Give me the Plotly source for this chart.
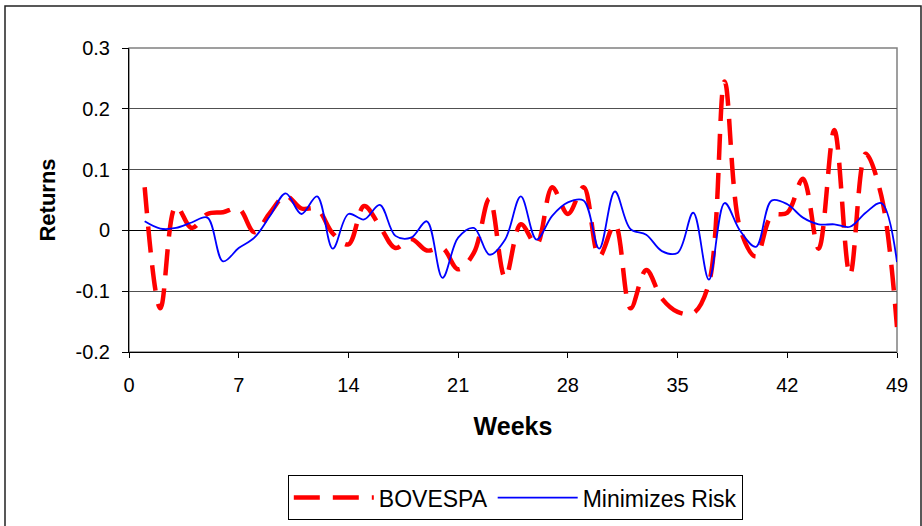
import plotly.graph_objects as go

weeks = list(range(1, 50))

bovespa = [0.071, -0.128, 0.040, 0.004, 0.027, 0.030, 0.036, -0.003, 0.029, 0.057,
           0.036, 0.035, -0.005, -0.023, 0.040, 0.007, -0.029, -0.014, -0.033, -0.029,
           -0.064, -0.037, 0.052, -0.078, 0.010, -0.023, 0.071, 0.027, 0.071, -0.043,
           0.010, -0.128, -0.065, -0.112, -0.134, -0.136, -0.087, 0.245, 0.002, -0.043,
           0.024, 0.029, 0.085, -0.030, 0.165, -0.073, 0.126, 0.057, -0.159]

min_risk = [0.015, 0.003, 0.004, 0.013, 0.021, -0.051, -0.029, -0.012, 0.024, 0.061,
            0.027, 0.056, -0.030, 0.027, 0.018, 0.042, -0.009, -0.012, 0.015, -0.078,
            -0.012, 0.004, -0.040, -0.015, 0.056, -0.015, 0.024, 0.046, 0.049, -0.030,
            0.064, 0.002, -0.007, -0.034, -0.037, 0.029, -0.081, 0.045, -0.001, -0.027,
            0.049, 0.043, 0.021, 0.010, 0.010, 0.006, 0.029, 0.045, -0.052]

x_ticks = [0, 7, 14, 21, 28, 35, 42, 49]
y_ticks = [-0.2, -0.1, 0, 0.1, 0.2, 0.3]
y_tick_text = ["-0.2", "-0.1", "0", "0.1", "0.2", "0.3"]

FONT = "Arial, 'Liberation Sans', sans-serif"

fig = go.Figure()
fig.add_trace(go.Scatter(
    x=weeks, y=bovespa, name="BOVESPA", mode="lines",
    line=dict(color="#FF0000", width=4.5, dash="26px,13px", shape="spline", smoothing=1.0),
))
fig.add_trace(go.Scatter(
    x=weeks, y=min_risk, name="Minimizes Risk", mode="lines",
    line=dict(color="#0000FF", width=1.8, shape="spline", smoothing=1.0),
))

# plot-area frame (gray) and outer chart frame
fig.add_shape(type="rect", xref="paper", yref="paper", x0=0, x1=1, y0=0, y1=1,
              line=dict(color="#808080", width=1.5), layer="below")
fig.add_shape(type="rect", xref="paper", yref="paper",
              x0=(5 - 129) / 768, x1=(921 - 129) / 768,
              y0=(352 - 540) / 304, y1=(352 - 6) / 304,
              line=dict(color="#222222", width=1.5))

fig.update_layout(
    width=922, height=526,
    margin=dict(l=129, r=25, t=48, b=174, autoexpand=False),
    paper_bgcolor="white", plot_bgcolor="white",
    font=dict(family=FONT, color="black", size=20),
    showlegend=True,
    legend=dict(
        orientation="h", x=0.503, y=-0.405, xanchor="center", yanchor="top",
        bordercolor="black", borderwidth=1, font=dict(size=23, family=FONT),
        itemwidth=80, tracegroupgap=0,
    ),
    xaxis=dict(
        range=[0, 49], tickmode="array", tickvals=x_ticks, automargin=False,
        showgrid=False, zeroline=False,
        showline=True, linecolor="black", linewidth=1,
        ticks="outside", ticklen=5, tickcolor="black", tickwidth=1,
        ticklabelstandoff=10,
        tickfont=dict(size=20, family=FONT),
        title=dict(text="<b>Weeks</b>", font=dict(size=25, family=FONT), standoff=22),
    ),
    yaxis=dict(
        range=[-0.2, 0.3], tickmode="array", tickvals=y_ticks, ticktext=y_tick_text,
        automargin=False,
        showgrid=True, gridcolor="#505050", gridwidth=1,
        zeroline=True, zerolinecolor="black", zerolinewidth=1,
        showline=True, linecolor="black", linewidth=1,
        ticks="outside", ticklen=6, tickcolor="black", tickwidth=1,
        ticklabelstandoff=8,
        tickfont=dict(size=20, family=FONT),
        title=dict(text="<b>Returns</b>", font=dict(size=22, family=FONT), standoff=13),
    ),
)

fig.write_html("out.html", config={"displayModeBar": False},
               post_script="document.body.style.margin='0';")
